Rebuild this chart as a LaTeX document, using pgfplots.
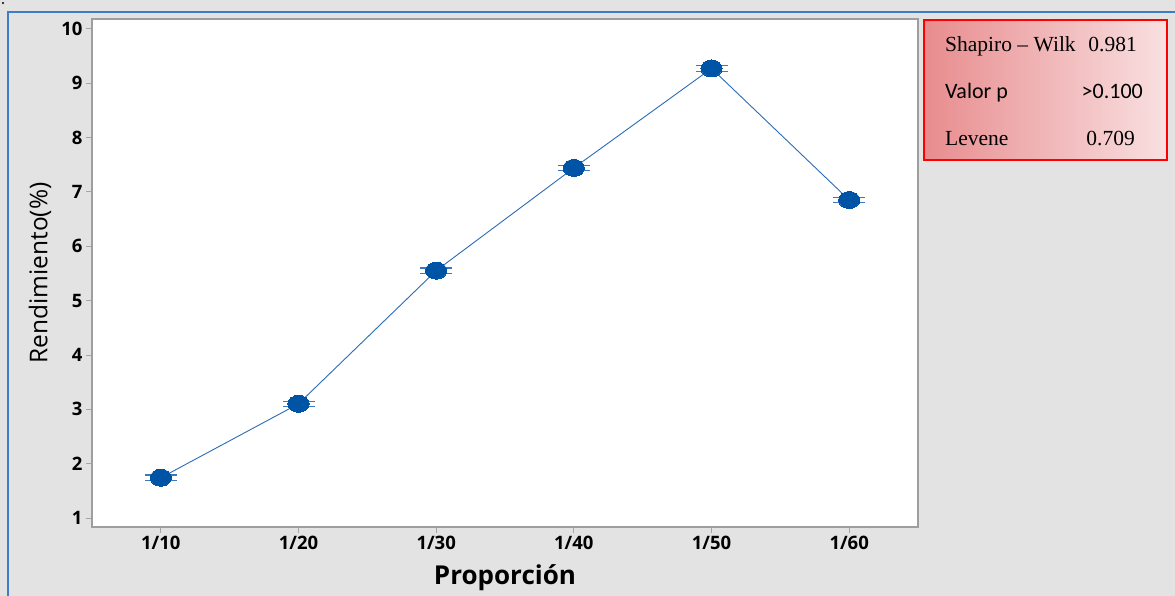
\documentclass[border=0pt]{standalone}
\usepackage{fontspec}
\setmainfont{Open Sans}
\newfontfamily\timesf{Liberation Serif}
\newfontfamily\calib{Carlito}
\usepackage{pgfplots}
\usepackage{pgfplotstable}
\pgfplotsset{compat=1.18}
\definecolor{bg}{HTML}{E3E3E3}
\definecolor{frameblue}{HTML}{3C7DC4}
\definecolor{lineblue}{HTML}{2B6CB8}
\definecolor{markblue}{HTML}{0054A6}
\definecolor{capblue}{HTML}{3A78C0}
\definecolor{boxleft}{HTML}{E88C8E}
\definecolor{boxright}{HTML}{F9E0E1}
\pgfplotstableread{
x y err
0 1.74 0.05
1 3.10 0.05
2 5.55 0.05
3 7.44 0.05
4 9.27 0.05
5 6.85 0.05
}\datatab
\begin{document}
\begin{tikzpicture}[x=1pt,y=1pt]
\fill[bg] (0,0) rectangle (1175,596);
\draw[frameblue, line width=2pt] (8,0) -- (8,584) -- (1175,584);
\fill[black] (3,593) circle (1.2pt);
\begin{axis}[
  at={(92pt,69pt)}, anchor=south west,
  scale only axis, width=826pt, height=508pt,
  xmin=-0.5, xmax=5.5, ymin=0.834, ymax=10.18,
  xtick={0,1,2,3,4,5},
  xticklabels={1/10,1/20,1/30,1/40,1/50,1/60},
  ytick={1,2,3,4,5,6,7,8,9,10},
  axis background/.style={fill=white},
  axis line style={draw=black!38, line width=1.2pt},
  tick align=outside, major tick length=6pt,
  tick style={draw=black!35, line width=0.8pt},
  xtick pos=bottom, ytick pos=left,
  /pgf/number format/assume math mode=true,
  tick label style={font=\fontsize{18.5}{18.5}\selectfont\bfseries},
  xlabel={Proporción}, ylabel={Rendimiento(\%)},
  xlabel style={font=\fontsize{26}{26}\selectfont\bfseries, at={(axis description cs:0.5,-0.1004)}, anchor=center},
  ylabel style={font=\fontsize{24.5}{24.5}\selectfont, at={(axis description cs:-0.063,0.5)}, anchor=center},
  clip=false,
]
\addplot[color=lineblue, line width=0.9pt, mark=none,
  error bars/.cd, y dir=both, y explicit, error mark=|,
  error bar style={draw=capblue, line width=0.9pt},
  error mark options={draw=capblue, line width=1.2pt, mark size=16pt}]
  table[x=x, y=y, y error=err] {\datatab};
\addplot[only marks, mark=*, mark size=8.5pt,
  mark options={fill=markblue, draw=markblue, xscale=1.25, line width=0pt}]
  table[x=x, y=y] {\datatab};
\end{axis}
\shade[left color=boxleft, right color=boxright] (924,436) rectangle (1167,576);
\draw[red, line width=2pt] (924,436) rectangle (1167,576);
\node[anchor=base west, inner sep=0pt, font=\timesf\fontsize{21.5}{21.5}\selectfont] at (945,544) {Shapiro – Wilk};
\node[anchor=base east, inner sep=0pt, font=\timesf\fontsize{21.5}{21.5}\selectfont] at (1137,544) {0.981};
\node[anchor=base west, inner sep=0pt, font=\calib\fontsize{22}{22}\selectfont] at (945,497) {Valor p};
\node[anchor=base east, inner sep=0pt, font=\calib\fontsize{22}{22}\selectfont] at (1143,497) {>0.100};
\node[anchor=base west, inner sep=0pt, font=\timesf\fontsize{21.5}{21.5}\selectfont] at (945,450) {Levene};
\node[anchor=base east, inner sep=0pt, font=\timesf\fontsize{21.5}{21.5}\selectfont] at (1135,450) {0.709};
\pgfresetboundingbox
\useasboundingbox (0,0) rectangle (1175,596);
\end{tikzpicture}
\end{document}
